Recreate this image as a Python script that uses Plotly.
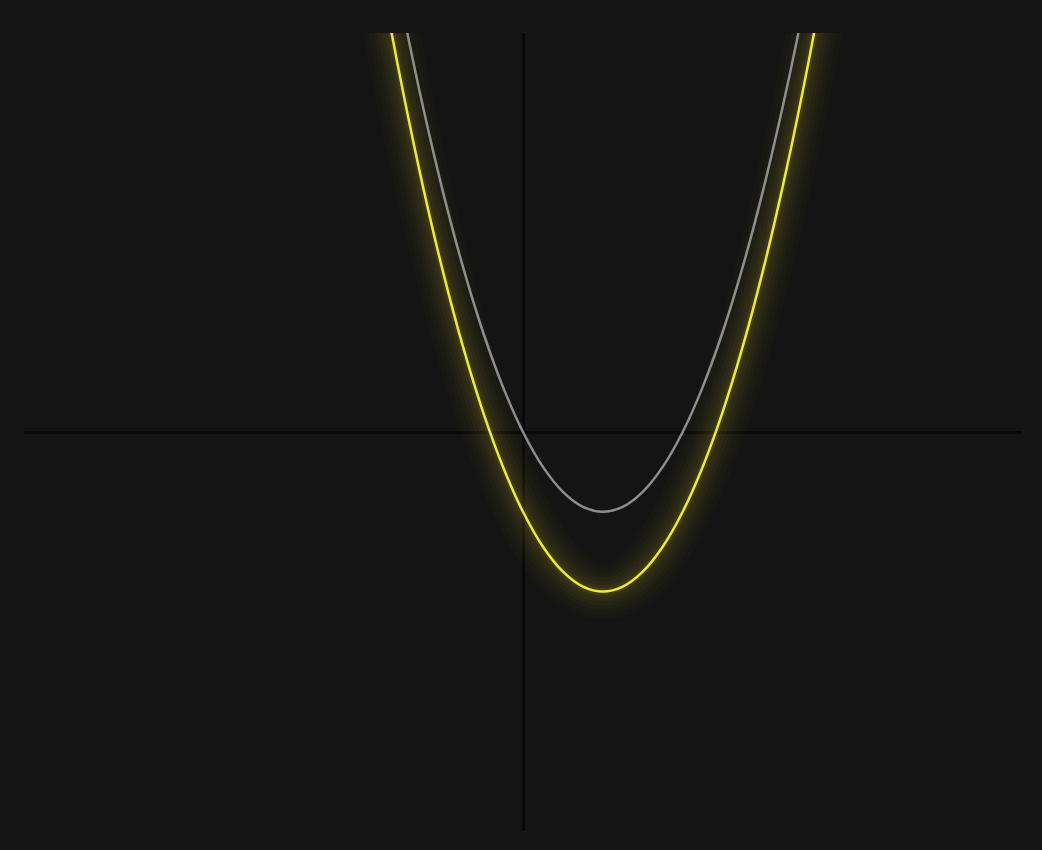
import plotly.graph_objects as go

# points (x, y in axis units)
x_vals = [-2.0, -1.75, -1.5, -1.25, -1.0, -0.75, -0.5, -0.25, 0.0, 0.25, 0.5, 0.75,
          1.0, 1.25, 1.5, 1.75, 2.0, 2.25, 2.5, 2.75, 3.0, 3.25, 3.5, 3.75, 4.0]
gray_y = [8.0, 6.5625, 5.25, 4.0625, 3.0, 2.0625, 1.25, 0.5625, 0.0, -0.4375, -0.75, -0.9375,
          -1.0, -0.9375, -0.75, -0.4375, 0.0, 0.5625, 1.25, 2.0625, 3.0, 4.0625, 5.25, 6.5625, 8.0]
yellow_y = [7.0, 5.5625, 4.25, 3.0625, 2.0, 1.0625, 0.25, -0.4375, -1.0, -1.4375, -1.75, -1.9375,
            -2.0, -1.9375, -1.75, -1.4375, -1.0, -0.4375, 0.25, 1.0625, 2.0, 3.0625, 4.25, 5.5625, 7.0]

x_range = [-6.25, 6.25]
y_range = [-5, 5]

BG = "#141414"
YELLOW = "#f2e936"
GRAY = "#8e8e8e"

fig = go.Figure()

# soft glow under the yellow curve
for w, a in [(56, 0.014), (46, 0.018), (36, 0.022), (28, 0.026), (20, 0.03), (13, 0.04), (7, 0.06)]:
    fig.add_trace(go.Scatter(
        x=x_vals, y=yellow_y, mode="lines",
        line=dict(color=f"rgba(242,233,54,{a})", width=w, shape="spline"),
        hoverinfo="skip", showlegend=False,
    ))

fig.add_trace(go.Scatter(
    x=x_vals, y=gray_y, mode="lines",
    line=dict(color=GRAY, width=2.5, shape="spline"),
    hoverinfo="skip", showlegend=False,
))
fig.add_trace(go.Scatter(
    x=x_vals, y=yellow_y, mode="lines",
    line=dict(color=YELLOW, width=2.5, shape="spline"),
    hoverinfo="skip", showlegend=False,
))

axis_style = dict(
    showgrid=False, showticklabels=False, ticks="", showline=False,
    zeroline=True, zerolinecolor="#080808", zerolinewidth=2.5,
)

fig.update_layout(
    width=1042, height=850,
    margin=dict(l=24, r=20, t=33, b=19),
    paper_bgcolor=BG, plot_bgcolor=BG,
    xaxis=dict(range=x_range, **axis_style),
    yaxis=dict(range=y_range, **axis_style),
)

# drop the default page margin so the chart fills the window
fig.write_html(
    "out.html",
    config={"displayModeBar": False},
    post_script="document.body.style.margin='0';"
                "document.body.style.background='#141414';"
                "document.body.style.overflow='hidden';",
)
